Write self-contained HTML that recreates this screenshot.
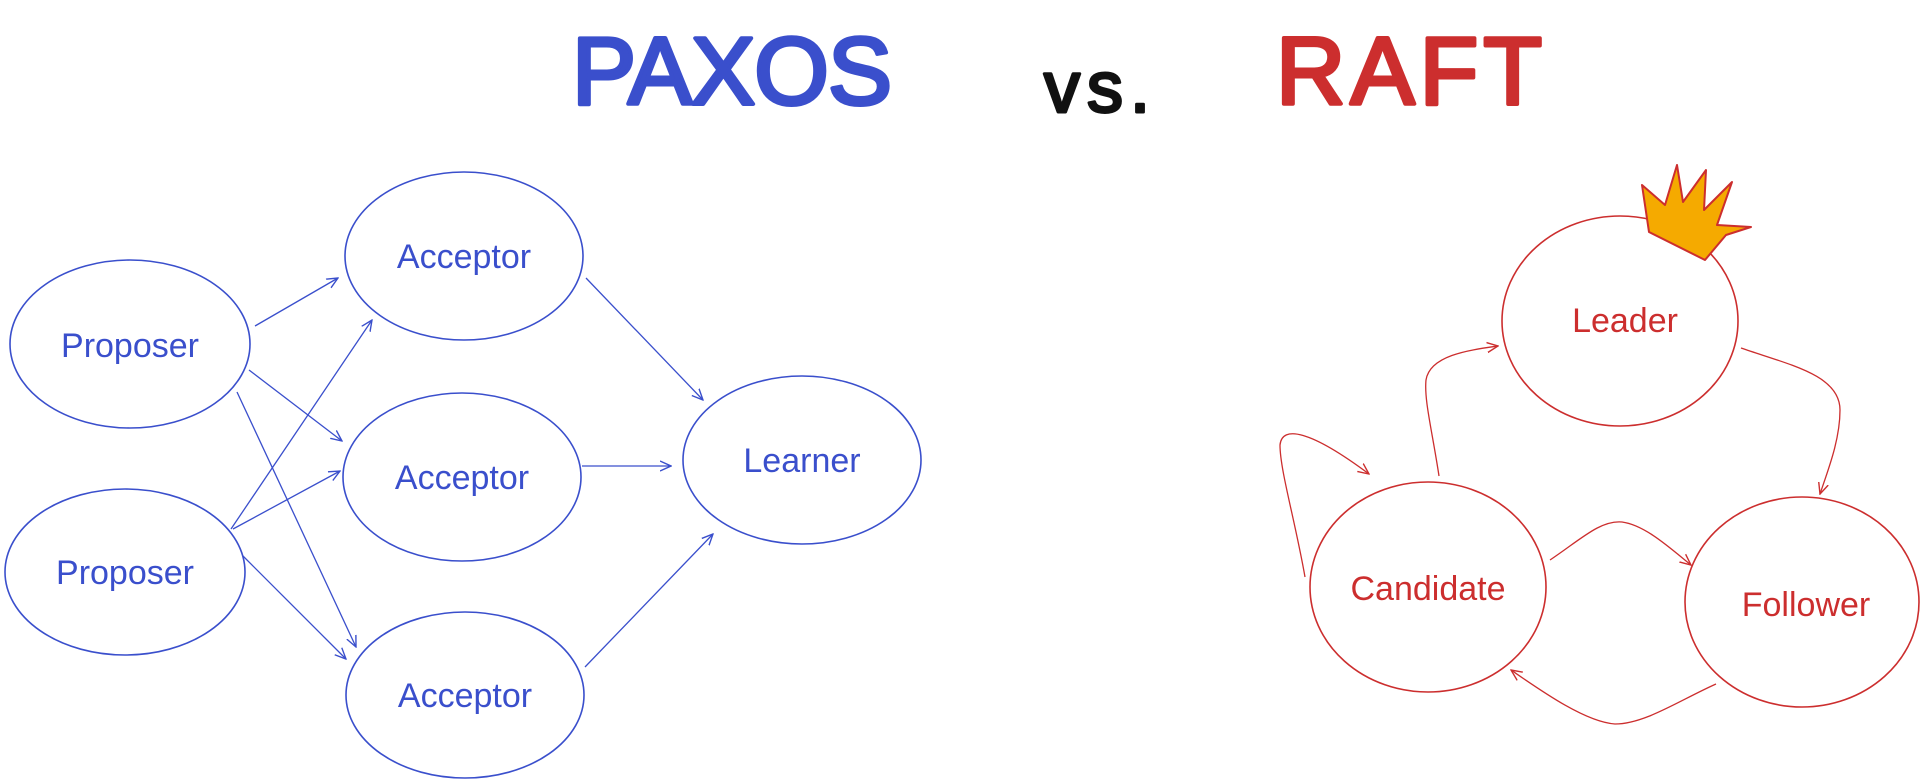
<!DOCTYPE html>
<html><head><meta charset="utf-8"><style>
html,body{margin:0;padding:0;background:#fff;width:1920px;height:779px;overflow:hidden}
svg{display:block}
</style></head><body>
<svg width="1920" height="779" viewBox="0 0 1920 779" xmlns="http://www.w3.org/2000/svg">
<defs>
<marker id="ab" viewBox="0 0 12 12" refX="11" refY="6" markerWidth="12" markerHeight="12" markerUnits="userSpaceOnUse" orient="auto"><path d="M0,1 L11,6 L0,11" fill="none" stroke="#3a4fcc" stroke-width="1.4"/></marker>
<marker id="ar" viewBox="0 0 12 12" refX="11" refY="6" markerWidth="12" markerHeight="12" markerUnits="userSpaceOnUse" orient="auto"><path d="M0,1 L11,6 L0,11" fill="none" stroke="#cc2e2e" stroke-width="1.4"/></marker>
</defs>
<g font-family="Liberation Sans, sans-serif" stroke-linejoin="round">
<text x="572" y="104" font-size="96" fill="#3a4fcc" stroke="#3a4fcc" stroke-width="4" textLength="320" lengthAdjust="spacing">PAXOS</text>
<text x="1044" y="112" font-size="72" fill="#111" stroke="#111" stroke-width="3" textLength="106" lengthAdjust="spacing">vs.</text>
<text x="1276" y="104" font-size="96" fill="#cc2e2e" stroke="#cc2e2e" stroke-width="4" textLength="266" lengthAdjust="spacing">RAFT</text>
</g>
<g fill="none" stroke="#3a4fcc" stroke-width="1.6">
<ellipse cx="130" cy="344" rx="120" ry="84"/>
<ellipse cx="125" cy="572" rx="120" ry="83"/>
<ellipse cx="464" cy="256" rx="119" ry="84"/>
<ellipse cx="462" cy="477" rx="119" ry="84"/>
<ellipse cx="465" cy="695" rx="119" ry="83"/>
<ellipse cx="802" cy="460" rx="119" ry="84"/>
<g stroke-width="1.3">
<line x1="255" y1="326" x2="338" y2="278" marker-end="url(#ab)"/>
<line x1="249" y1="370" x2="342" y2="441" marker-end="url(#ab)"/>
<line x1="237" y1="392" x2="356" y2="647" marker-end="url(#ab)"/>
<line x1="231" y1="529" x2="372" y2="320" marker-end="url(#ab)"/>
<line x1="233" y1="529" x2="340" y2="471" marker-end="url(#ab)"/>
<line x1="243" y1="556" x2="346" y2="659" marker-end="url(#ab)"/>
<line x1="586" y1="278" x2="703" y2="400" marker-end="url(#ab)"/>
<line x1="582" y1="466" x2="671" y2="466" marker-end="url(#ab)"/>
<line x1="585" y1="667" x2="713" y2="534" marker-end="url(#ab)"/>
</g>
</g>
<g font-family="Liberation Sans, sans-serif" font-size="34" fill="#3a4fcc" text-anchor="middle">
<text x="130" y="357">Proposer</text>
<text x="125" y="584">Proposer</text>
<text x="464" y="268">Acceptor</text>
<text x="462" y="489">Acceptor</text>
<text x="465" y="707">Acceptor</text>
<text x="802" y="472">Learner</text>
</g>
<g fill="none" stroke="#cc2e2e" stroke-width="1.6">
<ellipse cx="1620" cy="321" rx="118" ry="105"/>
<ellipse cx="1428" cy="587" rx="118" ry="105"/>
<ellipse cx="1802" cy="602" rx="117" ry="105"/>
<g stroke-width="1.3">
<path d="M1439,476 C1432,430 1424,400 1426,380 C1430,355 1470,350 1498,346" marker-end="url(#ar)"/>
<path d="M1741,348 C1790,365 1840,375 1840,410 C1840,440 1828,470 1820,494" marker-end="url(#ar)"/>
<path d="M1550,560 C1580,540 1600,520 1622,522 C1645,525 1670,548 1691,565" marker-end="url(#ar)"/>
<path d="M1716,684 C1680,700 1645,724 1615,724 C1585,722 1540,690 1511,670" marker-end="url(#ar)"/>
<path d="M1305,577 C1295,520 1280,470 1280,445 C1282,425 1310,430 1369,474" marker-end="url(#ar)"/>
</g>
</g>
<polygon points="1649,232 1642,185 1665,205 1677,165 1683,202 1706,170 1704,210 1732,182 1717,225 1751,227 1726,235 1705,260" fill="#f5aa00" stroke="#cc2e2e" stroke-width="2" stroke-linejoin="round"/>
<g font-family="Liberation Sans, sans-serif" font-size="34" fill="#cc2e2e" text-anchor="middle">
<text x="1625" y="332">Leader</text>
<text x="1428" y="600">Candidate</text>
<text x="1806" y="616">Follower</text>
</g>
</svg>
</body></html>
